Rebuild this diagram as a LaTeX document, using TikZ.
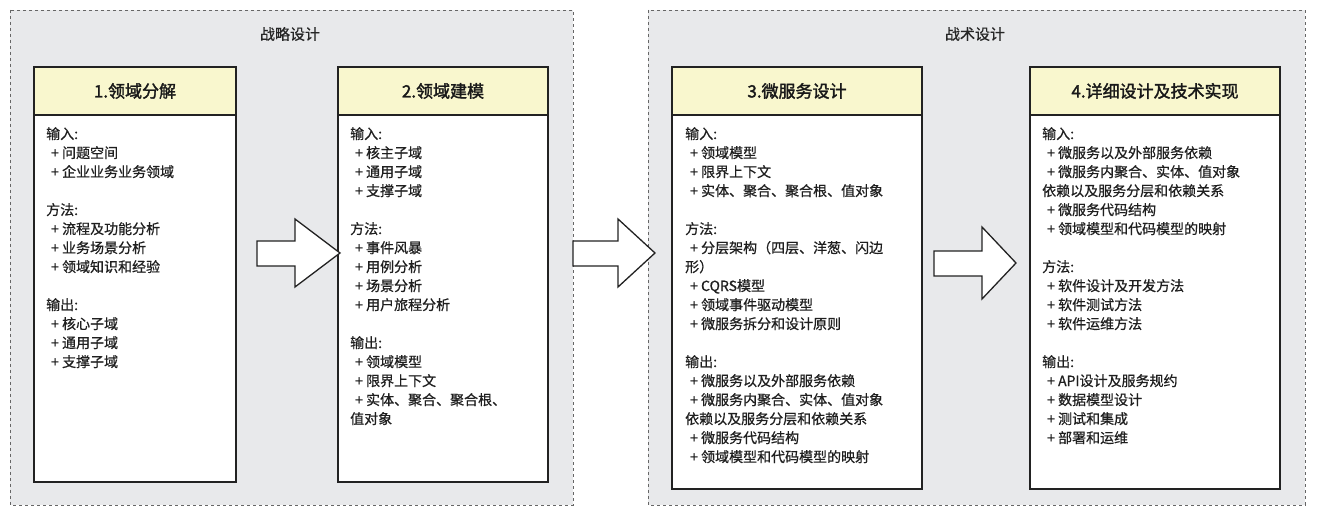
\documentclass[tikz,border=0pt]{standalone}
\usepackage{fontspec}
\setmainfont{Noto Sans CJK SC}
\newfontfamily\medfont[FakeBold=0.7]{Noto Sans CJK SC}
\newfontfamily\hdrfont[FakeBold=1.8]{Noto Sans CJK SC}
\definecolor{grp}{HTML}{E8E9EB}
\definecolor{hdr}{HTML}{F9F7CE}
\definecolor{edge}{HTML}{222222}
\begin{document}
\begin{tikzpicture}[x=1pt,y=-1pt,
  grpbox/.style={draw=gray!80!black,dashed,fill=grp,line width=0.8pt},
  grptitle/.style={font=\medfont\fontsize{15}{18}\selectfont,text=black!85},
  bodybox/.style={draw=edge,fill=white,line width=1.4pt},
  hdrbox/.style={draw=edge,fill=hdr,line width=1.4pt},
  hdrtext/.style={font=\hdrfont\fontsize{17}{20}\selectfont,text=black!90},
  bodytext/.style={anchor=north west,inner sep=0pt,align=left,font=\medfont\fontsize{14}{19}\selectfont,text=black!88},
  bigarrow/.style={draw=edge,fill=white,line width=1.3pt,line join=miter}]
\useasboundingbox (0,0) rectangle (1318,518);
\fill[white] (0,0) rectangle (1318,518);
% groups
\draw[grpbox] (10,10) rectangle (573,505);
\draw[grpbox] (648,10) rectangle (1305,505);
\node[grptitle] (g1) at (290,34) {战略设计};
\node[grptitle] (g2) at (975,34) {战术设计};
\newcommand{\pl}{\hspace*{5pt}+ }
% box 1
\draw[bodybox] (34,67) rectangle (236,482);
\draw[hdrbox] (34,67) rectangle (236,115);
\node[hdrtext] (h1) at (135,91) {1.领域分解};
\node[bodytext] (t1) at (46,127) {输入:\\\pl 问题空间\\\pl 企业业务业务领域\\[19pt]方法:\\\pl 流程及功能分析\\\pl 业务场景分析\\\pl 领域知识和经验\\[19pt]输出:\\\pl 核心子域\\\pl 通用子域\\\pl 支撑子域};
% box 2
\draw[bodybox] (338,67) rectangle (548,482);
\draw[hdrbox] (338,67) rectangle (548,115);
\node[hdrtext] (h2) at (443,91) {2.领域建模};
\node[bodytext] (t2) at (350,127) {输入:\\\pl 核主子域\\\pl 通用子域\\\pl 支撑子域\\[19pt]方法:\\\pl 事件风暴\\\pl 用例分析\\\pl 场景分析\\\pl 用户旅程分析\\[19pt]输出:\\\pl 领域模型\\\pl 限界上下文\\\pl 实体、聚合、聚合根、\\值对象};
% box 3
\draw[bodybox] (672,67) rectangle (922,489);
\draw[hdrbox] (672,67) rectangle (922,115);
\node[hdrtext] (h3) at (797,91) {3.微服务设计};
\node[bodytext] (t3) at (685,127) {输入:\\\pl 领域模型\\\pl 限界上下文\\\pl 实体、聚合、聚合根、值对象\\[19pt]方法:\\\pl 分层架构（四层、洋葱、闪边\\形）\\\pl CQRS模型\\\pl 领域事件驱动模型\\\pl 微服务拆分和设计原则\\[19pt]输出:\\\pl 微服务以及外部服务依赖\\\pl 微服务内聚合、实体、值对象\\依赖以及服务分层和依赖关系\\\pl 微服务代码结构\\\pl 领域模型和代码模型的映射};
% box 4
\draw[bodybox] (1030,67) rectangle (1280,489);
\draw[hdrbox] (1030,67) rectangle (1280,115);
\node[hdrtext] (h4) at (1155,91) {4.详细设计及技术实现};
\node[bodytext] (t4) at (1042,127) {输入:\\\pl 微服务以及外部服务依赖\\\pl 微服务内聚合、实体、值对象\\依赖以及服务分层和依赖关系\\\pl 微服务代码结构\\\pl 领域模型和代码模型的映射\\[19pt]方法:\\\pl 软件设计及开发方法\\\pl 软件测试方法\\\pl 软件运维方法\\[19pt]输出:\\\pl API设计及服务规约\\\pl 数据模型设计\\\pl 测试和集成\\\pl 部署和运维};
% block arrows
\draw[bigarrow] (257,241) -- (295,241) -- (295,219) -- (340,253) -- (295,287) -- (295,266) -- (257,266) -- cycle;
\draw[bigarrow] (573,241) -- (618,241) -- (618,219) -- (655,253) -- (618,287) -- (618,266) -- (573,266) -- cycle;
\draw[bigarrow] (934,251) -- (982,251) -- (982,227) -- (1016,263) -- (982,299) -- (982,276) -- (934,276) -- cycle;
\end{tikzpicture}
\end{document}
